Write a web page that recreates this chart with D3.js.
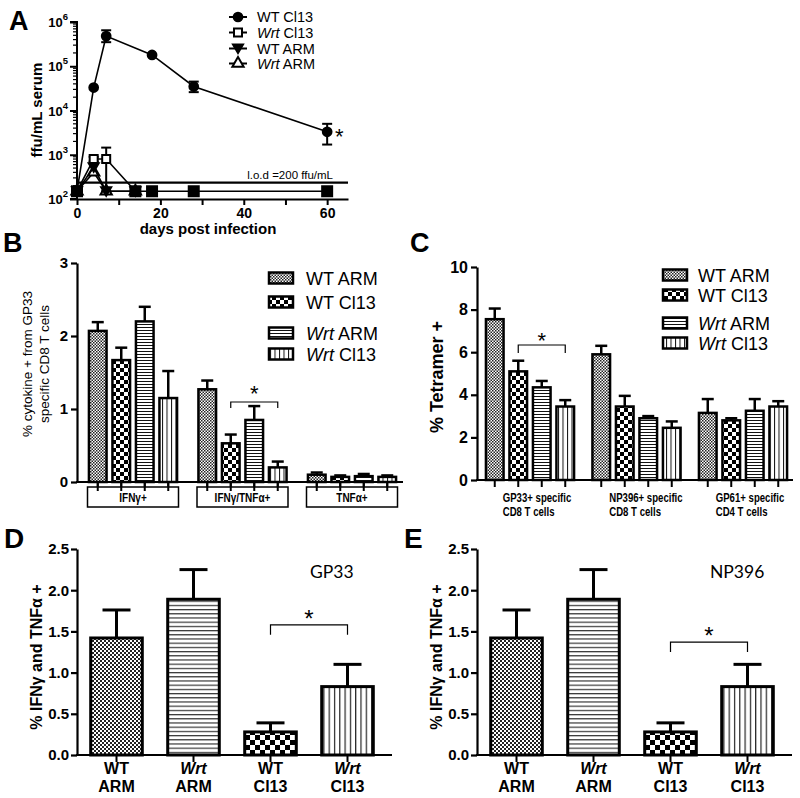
<!DOCTYPE html>
<html><head><meta charset="utf-8">
<script src="https://cdn.jsdelivr.net/npm/d3@7"></script>
<style>body{margin:0;background:#fff} svg{display:block;font-family:"Liberation Sans",Arial,sans-serif}</style>
</head><body>
<script>
// ---------- DATA ----------
// Panel A: viral titres (ffu/mL serum)
const daysWTCl13 = [0, 4, 7, 18, 28, 60];
const ffuWTCl13 = [150, 33000, 480000, 180000, 35000, 3300];
const ffuWTCl13Hi = [150, 33000, 650000, 190000, 45000, 5000];
const ffuWTCl13Lo = [150, 33000, 350000, 170000, 26000, 1700];
const daysWrtCl13 = [0, 4, 7, 14, 18, 28, 60];
const ffuWrtCl13 = [150, 800, 800, 150, 150, 150, 150];
const ffuWrtCl13Hi = [150, 900, 1450, 150, 150, 150, 150];
const ffuWrtCl13Lo = [150, 700, 150, 150, 150, 150, 150];
const daysWTARM = [0, 4, 7, 14];
const ffuWTARM = [150, 520, 150, 150];
const daysWrtARM = [0, 4, 7, 14];
const ffuWrtARM = [150, 400, 150, 150];
const floorValue = 150;
const lodValue = 200;
const aXTicks = [0, 10, 20, 30, 40, 50, 60];
const aYTicks = [100, 1000, 10000, 100000, 1000000];
const aLegend = [["WT", " Cl13"], ["Wrt", " Cl13"], ["WT", " ARM"], ["Wrt", " ARM"]];

// Series of panels B and C
const seriesNames = ["WT ARM", "WT Cl13", "Wrt ARM", "Wrt Cl13"];

// Panel B
const bGroups = ["IFNγ+", "IFNγ/TNFα+", "TNFα+"];
const bWTARM = [2.07, 1.27, 0.10];
const bWTARMErr = [0.12, 0.12, 0.03];
const bWTCl13 = [1.67, 0.53, 0.07];
const bWTCl13Err = [0.17, 0.12, 0.02];
const bWrtARM = [2.20, 0.85, 0.08];
const bWrtARMErr = [0.20, 0.19, 0.03];
const bWrtCl13 = [1.15, 0.20, 0.07];
const bWrtCl13Err = [0.37, 0.08, 0.02];
const bYTicks = [0, 1, 2, 3];

// Panel C
const cGroups = [["GP33+ specific", "CD8 T cells"], ["NP396+ specific", "CD8 T cells"], ["GP61+ specific", "CD4 T cells"]];
const cWTARM = [7.55, 5.9, 3.15];
const cWTARMErr = [0.5, 0.4, 0.65];
const cWTCl13 = [5.1, 3.45, 2.8];
const cWTCl13Err = [0.5, 0.5, 0.1];
const cWrtARM = [4.35, 2.9, 3.25];
const cWrtARMErr = [0.3, 0.1, 0.55];
const cWrtCl13 = [3.45, 2.45, 3.45];
const cWrtCl13Err = [0.3, 0.3, 0.25];
const cYTicks = [0, 2, 4, 6, 8, 10];

// Panels D and E
const deCategories = ["WT ARM", "Wrt ARM", "WT Cl13", "Wrt Cl13"];
const deLabels = [["WT", "ARM"], ["Wrt", "ARM"], ["WT", "Cl13"], ["Wrt", "Cl13"]];
const dValues = [1.42, 1.89, 0.28, 0.83];
const dErr = [0.34, 0.36, 0.11, 0.27];
const eValues = [1.42, 1.89, 0.28, 0.83];
const eErr = [0.34, 0.36, 0.11, 0.27];
const deYTicks = [0, 0.5, 1.0, 1.5, 2.0, 2.5];

// ---------- SVG ----------
const svg = d3.select("body").append("svg").attr("width", 800).attr("height", 798);
const defs = svg.append("defs");

function checker(id, cell, color) {
  const p = defs.append("pattern").attr("id", id).attr("patternUnits", "userSpaceOnUse")
    .attr("width", cell * 2).attr("height", cell * 2);
  p.append("rect").attr("width", cell * 2).attr("height", cell * 2).attr("fill", "#fff");
  p.append("rect").attr("width", cell).attr("height", cell).attr("fill", color);
  p.append("rect").attr("x", cell).attr("y", cell).attr("width", cell).attr("height", cell).attr("fill", color);
}
function lines(id, gap, horiz, color, w) {
  const p = defs.append("pattern").attr("id", id).attr("patternUnits", "userSpaceOnUse")
    .attr("width", horiz ? 10 : gap).attr("height", horiz ? gap : 10);
  p.append("rect").attr("width", 10).attr("height", 10).attr("fill", "#fff");
  if (horiz) p.append("rect").attr("width", 10).attr("height", w).attr("fill", color);
  else p.append("rect").attr("width", w).attr("height", 10).attr("fill", color);
}
checker("fineS", 1.5, "#222");
checker("checkS", 4, "#000");
lines("hS", 3, true, "#111", 1);
lines("vS", 4.5, false, "#111", 1);
checker("fineL", 2, "#222");
checker("checkL", 5, "#000");
lines("hL", 4.2, true, "#333", 1.2);
lines("vL", 5.3, false, "#222", 1.2);
const patS = {"WT ARM": "url(#fineS)", "WT Cl13": "url(#checkS)", "Wrt ARM": "url(#hS)", "Wrt Cl13": "url(#vS)"};
const patL = {"WT ARM": "url(#fineL)", "WT Cl13": "url(#checkL)", "Wrt ARM": "url(#hL)", "Wrt Cl13": "url(#vL)"};
const narrow = "scale(0.8,1)";

function panelLetter(t, x, y) {
  svg.append("text").attr("x", x).attr("y", y).attr("font-size", 27).attr("font-weight", "bold").text(t);
}
function styleAxis(g, w) {
  g.selectAll(".domain").attr("stroke", "#000").attr("stroke-width", w);
  g.selectAll(".tick line").attr("stroke", "#000").attr("stroke-width", w);
}

// ---------- PANEL A ----------
(function () {
  const x = d3.scaleLinear().domain([0, 65]).range([77, 348]);
  const y = d3.scaleLog().domain([100, 1e6]).range([199, 22]);
  const g = svg.append("g");
  const minors = [];
  for (let e = 2; e < 6; e++) for (let k = 2; k <= 9; k++) minors.push(k * Math.pow(10, e));
  g.selectAll(".minor").data(minors).join("line")
    .attr("x1", 77).attr("x2", 73).attr("y1", d => y(d)).attr("y2", d => y(d))
    .attr("stroke", "#000").attr("stroke-width", 1.2);
  const ya = g.append("g").attr("transform", "translate(77,0)")
    .call(d3.axisLeft(y).tickValues(aYTicks).tickSize(7).tickFormat(""));
  styleAxis(ya, 2);
  ya.selectAll(".domain").attr("d", `M-7,${y(1e6)}H0V${y(100)}H-7`);
  aYTicks.forEach(v => {
    const t = g.append("text").attr("x", 68).attr("y", y(v) + 5).attr("text-anchor", "end")
      .attr("font-size", 13).attr("font-weight", "bold");
    t.append("tspan").text("10");
    t.append("tspan").attr("dy", -7).attr("font-size", 9.5).text(Math.round(Math.log10(v)));
  });
  const xa = g.append("g").attr("transform", "translate(0,199)")
    .call(d3.axisBottom(x).tickValues(aXTicks).tickSize(6).tickSizeOuter(0)
      .tickFormat(d => d % 20 === 0 ? d : ""));
  styleAxis(xa, 2);
  xa.selectAll("text").attr("font-size", 14).attr("font-weight", "bold").attr("font-family", "Liberation Sans").attr("fill", "#000");
  g.append("line").attr("x1", 77).attr("x2", 348).attr("y1", y(lodValue) - 3).attr("y2", y(lodValue) - 3)
    .attr("stroke", "#000").attr("stroke-width", 2.2);
  g.append("text").attr("x", 333).attr("y", y(lodValue) - 7).attr("text-anchor", "end")
    .attr("font-size", 11.5).text("l.o.d =200 ffu/mL");

  const line = d3.line().x(d => x(d[0])).y(d => y(d[1]));
  const tri = d3.symbol(d3.symbolTriangle, 55)();
  const triDown = "M0,4.5L-5,-4L5,-4Z";
  const squareSym = "M-4,-4H4V4H-4Z";
  const bigSquare = "M-5,-5H5V5H-5Z";
  function series(days, vals, hi, lo, sym, fill) {
    const pts = days.map((d, i) => [d, vals[i]]);
    g.append("path").attr("d", line(pts)).attr("fill", "none").attr("stroke", "#000").attr("stroke-width", 1.6);
    if (hi) days.forEach((d, i) => {
      if (hi[i] === vals[i] && lo[i] === vals[i]) return;
      g.append("line").attr("x1", x(d)).attr("x2", x(d)).attr("y1", y(hi[i])).attr("y2", y(lo[i]))
        .attr("stroke", "#000").attr("stroke-width", 2);
      [hi[i], lo[i]].forEach(v => g.append("line").attr("x1", x(d) - 5).attr("x2", x(d) + 5)
        .attr("y1", y(v)).attr("y2", y(v)).attr("stroke", "#000").attr("stroke-width", 2));
    });
    g.selectAll(null).data(pts).join("path")
      .attr("transform", d => `translate(${x(d[0])},${y(d[1])})`)
      .attr("d", d => (d[1] === floorValue && sym === squareSym) ? bigSquare : sym)
      .attr("fill", d => (d[1] === floorValue && sym === squareSym) ? "#000" : fill)
      .attr("stroke", "#000").attr("stroke-width", 2);
  }
  series(daysWrtARM, ffuWrtARM, null, null, tri, "#fff");
  series(daysWTARM, ffuWTARM, null, null, triDown, "#000");
  series(daysWrtCl13, ffuWrtCl13, ffuWrtCl13Hi, ffuWrtCl13Lo, squareSym, "#fff");
  series(daysWTCl13, ffuWTCl13, ffuWTCl13Hi, ffuWTCl13Lo, d3.symbol(d3.symbolCircle, 60)(), "#000");
  g.append("text").attr("x", 335).attr("y", y(ffuWTCl13[5]) + 12).attr("font-size", 22).text("*");

  g.append("text").attr("transform", "translate(42,110) rotate(-90)").attr("text-anchor", "middle")
    .attr("font-size", 15).attr("font-weight", "bold").text("ffu/mL serum");
  g.append("text").attr("x", 208).attr("y", 234).attr("text-anchor", "middle")
    .attr("font-size", 15).attr("font-weight", "bold").text("days post infection");
  const legY = [17, 32.5, 48.5, 63.5];
  aLegend.forEach((l, i) => {
    const cy = legY[i];
    g.append("line").attr("x1", 229).attr("x2", 247).attr("y1", cy).attr("y2", cy).attr("stroke", "#000").attr("stroke-width", 2);
    const s = i === 0 ? d3.symbol(d3.symbolCircle, 60)() : (i === 1 ? squareSym : (i === 2 ? triDown : tri));
    g.append("path").attr("transform", `translate(238,${cy})`).attr("d", s)
      .attr("fill", (i === 0 || i === 2) ? "#000" : "#fff").attr("stroke", "#000").attr("stroke-width", 2);
    const t = g.append("text").attr("x", 257).attr("y", cy + 5).attr("font-size", 14.5);
    t.append("tspan").attr("font-style", l[0] === "Wrt" ? "italic" : "normal").text(l[0]);
    t.append("tspan").text(l[1]);
  });
  panelLetter("A", 9, 30);
})();

// ---------- grouped bar helper (B, C) ----------
function groupedPanel(opts) {
  const g = svg.append("g");
  const y = d3.scaleLinear().domain(opts.yDomain).range(opts.yRange);
  const gx = d3.scalePoint().domain(d3.range(opts.nGroups)).range(opts.groupRange);
  const inner = d3.scaleBand().domain(seriesNames).range([-47, 47]).paddingInner(0.25).paddingOuter(0.125);
  const y0 = opts.yRange[0];
  opts.series.forEach((s, si) => {
    s.vals.forEach((v, gi) => {
      const cx = gx(gi) + inner(seriesNames[si]) + inner.bandwidth() / 2;
      g.append("line").attr("x1", cx).attr("x2", cx).attr("y1", y(v)).attr("y2", y(v + s.err[gi]))
        .attr("stroke", "#000").attr("stroke-width", 2.5);
      g.append("line").attr("x1", cx - 6).attr("x2", cx + 6).attr("y1", y(v + s.err[gi])).attr("y2", y(v + s.err[gi]))
        .attr("stroke", "#000").attr("stroke-width", 2.5);
      g.append("rect").attr("x", cx - inner.bandwidth() / 2).attr("width", inner.bandwidth())
        .attr("y", y(v)).attr("height", y0 - y(v))
        .attr("fill", patS[seriesNames[si]]).attr("stroke", "#000").attr("stroke-width", 2.5);
      g.append("line").attr("x1", cx).attr("x2", cx).attr("y1", y0).attr("y2", y0 + opts.tickLen)
        .attr("stroke", "#000").attr("stroke-width", 2);
    });
  });
  const ya = g.append("g").attr("transform", `translate(${opts.x0},0)`)
    .call(d3.axisLeft(y).tickValues(opts.yTicks).tickSize(6).tickSizeOuter(0).tickFormat(d3.format("d")));
  styleAxis(ya, 2.2);
  ya.selectAll("text").attr("font-size", opts.tickFont).attr("font-weight", "bold").attr("font-family", "Liberation Sans").attr("fill", "#000");
  g.append("line").attr("x1", opts.x0 - 1).attr("x2", opts.x1).attr("y1", y0).attr("y2", y0)
    .attr("stroke", "#000").attr("stroke-width", 2.2);
  return {g, y, gx, inner};
}
function legendBox(g, x, ys, textX) {
  seriesNames.forEach((n, i) => {
    g.append("rect").attr("x", x).attr("y", ys[i] - 5.5).attr("width", 24).attr("height", 11)
      .attr("fill", patS[n]).attr("stroke", "#000").attr("stroke-width", 2.5);
    const t = g.append("text").attr("x", textX).attr("y", ys[i] + 6.5).attr("font-size", 18);
    const parts = n.split(" ");
    t.append("tspan").attr("font-style", parts[0] === "Wrt" ? "italic" : "normal").text(parts[0]);
    t.append("tspan").text(" " + parts[1]);
  });
}
function bracket(g, x1, x2, yy, drop, starY, size) {
  g.append("path").attr("d", `M${x1},${yy + drop}V${yy}H${x2}V${yy + drop}`)
    .attr("fill", "none").attr("stroke", "#000").attr("stroke-width", 1.2);
  g.append("text").attr("x", (x1 + x2) / 2).attr("y", starY).attr("text-anchor", "middle")
    .attr("font-size", size).text("*");
}

// ---------- PANEL B ----------
(function () {
  const p = groupedPanel({
    yDomain: [0, 3], yRange: [482, 263], groupRange: [133, 352], nGroups: 3,
    x0: 77, x1: 403, tickLen: 8, yTicks: bYTicks, tickFont: 15,
    series: [{vals: bWTARM, err: bWTARMErr}, {vals: bWTCl13, err: bWTCl13Err},
             {vals: bWrtARM, err: bWrtARMErr}, {vals: bWrtCl13, err: bWrtCl13Err}]
  });
  const g = p.g;
  bGroups.forEach((name, i) => {
    const cx = p.gx(i);
    g.append("rect").attr("x", cx - 45.5).attr("y", 487).attr("width", 91).attr("height", 20)
      .attr("fill", "#fff").attr("stroke", "#000").attr("stroke-width", 1.5);
    g.append("text").attr("transform", `translate(${cx},502) ${narrow}`).attr("text-anchor", "middle")
      .attr("font-size", 12.5).attr("font-weight", "bold").text(name);
  });
  [0, 1, 2].forEach(gi => seriesNames.forEach(n => {
    const cx = p.gx(gi) + p.inner(n) + p.inner.bandwidth() / 2;
    g.append("line").attr("x1", cx).attr("x2", cx).attr("y1", 482).attr("y2", 491).attr("stroke", "#000").attr("stroke-width", 2);
  }));
  const xa = p.gx(1) + p.inner("WT Cl13") + p.inner.bandwidth() / 2;
  const xb = p.gx(1) + p.inner("Wrt Cl13") + p.inner.bandwidth() / 2;
  bracket(g, xa, xb, 402, 6, 401, 22);
  legendBox(g, 269, [278, 302, 333, 354], 306);
  const t = g.append("text").attr("transform", "translate(32,364) rotate(-90)").attr("text-anchor", "middle").attr("font-size", 13.5);
  t.append("tspan").attr("x", 0).attr("dy", 0).text("% cytokine + from GP33");
  t.append("tspan").attr("x", 0).attr("dy", 16.5).text("specific CD8 T cells");
  panelLetter("B", 3, 252);
})();

// ---------- PANEL C ----------
(function () {
  const p = groupedPanel({
    yDomain: [0, 10], yRange: [480, 267], groupRange: [530, 743], nGroups: 3,
    x0: 477, x1: 793, tickLen: 7, yTicks: cYTicks, tickFont: 16,
    series: [{vals: cWTARM, err: cWTARMErr}, {vals: cWTCl13, err: cWTCl13Err},
             {vals: cWrtARM, err: cWrtARMErr}, {vals: cWrtCl13, err: cWrtCl13Err}]
  });
  const g = p.g;
  cGroups.forEach((lab, i) => {
    const sx = p.gx(i) + p.inner("WT ARM") + p.inner.bandwidth() / 2 + 8;
    lab.forEach((s, k) => g.append("text").attr("transform", `translate(${sx},${502 + k * 14}) ${narrow}`)
      .attr("font-size", 12).attr("font-weight", "bold").text(s));
  });
  const xa = p.gx(0) + p.inner("WT Cl13") + p.inner.bandwidth() / 2;
  const xb = p.gx(0) + p.inner("Wrt Cl13") + p.inner.bandwidth() / 2;
  bracket(g, xa, xb, 345, 8, 348, 22);
  legendBox(g, 663, [275, 295, 323, 343], 698);
  g.append("text").attr("transform", "translate(443,377) rotate(-90)").attr("text-anchor", "middle")
    .attr("font-size", 18).attr("font-weight", "bold").text("% Tetramer +");
  panelLetter("C", 410, 252);
})();

// ---------- PANELS D / E ----------
function simplePanel(ox, vals, errs, title, brY, letter) {
  const g = svg.append("g").attr("transform", `translate(${ox},0)`);
  const y = d3.scaleLinear().domain([0, 2.5]).range([755, 549]);
  const x = d3.scaleBand().domain(deCategories).range([78, 386]).paddingInner(0.33).paddingOuter(0.165);
  deCategories.forEach((c, i) => {
    const cx = x(c) + x.bandwidth() / 2;
    g.append("line").attr("x1", cx).attr("x2", cx).attr("y1", y(vals[i])).attr("y2", y(vals[i] + errs[i]))
      .attr("stroke", "#000").attr("stroke-width", 3);
    g.append("line").attr("x1", cx - 14).attr("x2", cx + 14).attr("y1", y(vals[i] + errs[i])).attr("y2", y(vals[i] + errs[i]))
      .attr("stroke", "#000").attr("stroke-width", 3);
    g.append("rect").attr("x", x(c)).attr("width", x.bandwidth()).attr("y", y(vals[i])).attr("height", 755 - y(vals[i]))
      .attr("fill", patL[c]).attr("stroke", "#000").attr("stroke-width", 3);
    g.append("line").attr("x1", cx).attr("x2", cx).attr("y1", 755).attr("y2", 762).attr("stroke", "#000").attr("stroke-width", 2);
    deLabels[i].forEach((s, k) => g.append("text").attr("x", cx).attr("y", 774 + k * 17.5)
      .attr("text-anchor", "middle").attr("font-size", 16).attr("font-weight", "bold")
      .attr("font-style", s === "Wrt" ? "italic" : "normal").text(s));
  });
  const ya = g.append("g").attr("transform", "translate(77,0)")
    .call(d3.axisLeft(y).tickValues(deYTicks).tickSize(6).tickPadding(2).tickSizeOuter(0).tickFormat(d3.format(".1f")));
  styleAxis(ya, 2.2);
  ya.selectAll("text").attr("font-size", 15).attr("font-weight", "bold").attr("font-family", "Liberation Sans").attr("fill", "#000");
  g.append("line").attr("x1", 76).attr("x2", 392).attr("y1", 755).attr("y2", 755).attr("stroke", "#000").attr("stroke-width", 2.2);
  const xa = x("WT Cl13") + x.bandwidth() / 2, xb = x("Wrt Cl13") + x.bandwidth() / 2;
  bracket(g, xa, xb, y(brY), 10, y(brY) + 2, 24);
  g.append("text").attr("x", 310).attr("y", 578).attr("font-size", 17.5)
    .attr("font-family", "Lato,'Open Sans',sans-serif").text(title);
  g.append("text").attr("transform", "translate(42,657) rotate(-90)").attr("text-anchor", "middle")
    .attr("font-size", 16).attr("font-weight", "bold").text("% IFNγ and TNFα +");
  svg.append("text").attr("x", ox + 4).attr("y", 548).attr("font-size", 28).attr("font-weight", "bold").text(letter);
}
simplePanel(0, dValues, dErr, "GP33", 1.58, "D");
simplePanel(400, eValues, eErr, "NP396", 1.37, "E");
</script>
</body></html>
